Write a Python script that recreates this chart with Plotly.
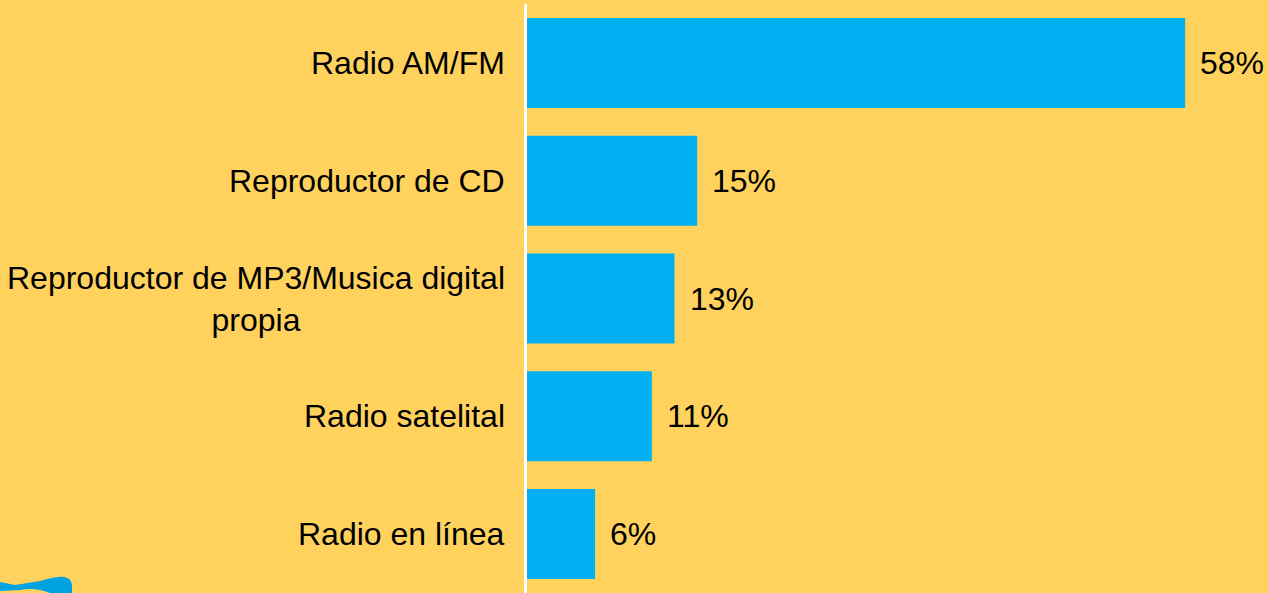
import plotly.graph_objects as go

CATEGORIES = [
    'Radio AM/FM',
    'Reproductor de CD',
    'Reproductor de MP3/Musica digital<br>propia',
    'Radio satelital',
    'Radio en línea',
]
VALUES = [58, 15, 13, 11, 6]
VALUE_LABELS = ['58%', '15%', '13%', '11%', '6%']

BG = '#FFD25E'
BAR_BLUE = '#00B0F0'
LOGO_BLUE = '#00A3E0'
FONT = 'Liberation Sans, Arial, sans-serif'

W, H = 1268, 593
M_LEFT, M_TOP = 527, 4
PLOT_W = W - M_LEFT

bars = go.Bar(
    x=VALUES,
    y=CATEGORIES,
    orientation='h',
    marker=dict(color=BAR_BLUE, line=dict(width=0)),
    hoverinfo='skip',
)

fig = go.Figure(data=[bars])

annotations = []
# category labels, block right-aligned, lines centered
for cat in CATEGORIES:
    annotations.append(dict(
        x=0, y=cat, xref='x', yref='y',
        text=cat, showarrow=False,
        xanchor='right', yanchor='middle', align='center',
        xshift=-20,
        font=dict(family=FONT, size=32, color='#000000'),
    ))
# value labels outside the bars
for cat, val, lab in zip(CATEGORIES, VALUES, VALUE_LABELS):
    annotations.append(dict(
        x=val, y=cat, xref='x', yref='y',
        text=lab, showarrow=False,
        xanchor='left', yanchor='middle',
        xshift=13,
        font=dict(family=FONT, size=32, color='#000000'),
    ))

# small blue swoosh in the lower-left corner (decoration)
logo_path = ('M 0 11 L 15 8 L 40 12 Q 58 17 64 16 Q 72 15 72 7 '
             'L 72 0 L 50 0 Q 35 6 20 3 L 0 2 Z')

fig.update_layout(
    width=W,
    height=H,
    autosize=False,
    paper_bgcolor=BG,
    plot_bgcolor=BG,
    showlegend=False,
    bargap=0.236,
    margin=dict(l=M_LEFT, r=0, t=M_TOP, b=0, pad=0),
    annotations=annotations,
    shapes=[dict(
        type='path',
        xref='paper', yref='paper',
        xsizemode='pixel', ysizemode='pixel',
        xanchor=-M_LEFT / PLOT_W, yanchor=0,
        path=logo_path,
        fillcolor=LOGO_BLUE,
        line=dict(width=0),
        layer='above',
    )],
    xaxis=dict(
        range=[0, 65.3],
        visible=False,
        fixedrange=True,
    ),
    yaxis=dict(
        autorange='reversed',
        showticklabels=False,
        showgrid=False,
        zeroline=False,
        showline=True,
        linecolor='#FFFFFF',
        linewidth=3,
        ticks='',
        fixedrange=True,
    ),
)

fig.write_html(
    "out.html",
    config={'displayModeBar': False},
    post_script="document.body.style.margin='0';",
)
